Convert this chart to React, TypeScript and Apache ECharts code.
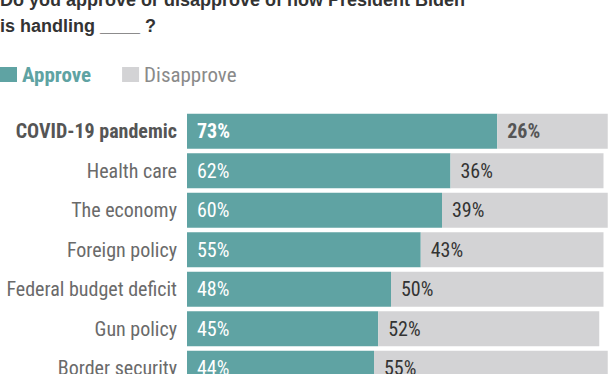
import React, { useEffect, useRef } from "react";
import * as echarts from "echarts";

const categories = [
  "COVID-19 pandemic",
  "Health care",
  "The economy",
  "Foreign policy",
  "Federal budget deficit",
  "Gun policy",
  "Border security",
];
const approve = [73, 62, 60, 55, 48, 45, 44];
const disapprove = [26, 36, 39, 43, 50, 52, 55];

const TEAL = "#5fa3a3";
const GRAY = "#d3d3d5";
const NARROW = "'Liberation Sans Narrow', 'Arial Narrow', 'Roboto Condensed', sans-serif";

export default function App() {
  const ref = useRef<HTMLDivElement>(null);
  useEffect(() => {
    if (!ref.current) return;
    const chart = echarts.init(ref.current, undefined, { renderer: "svg" });
    chart.setOption({
      animation: false,
      graphic: [
        {
          type: "text",
          left: 0,
          top: -13,
          style: {
            text: "Do you approve or disapprove of how President Biden\nis handling ____ ?",
            font: "bold 18px 'Liberation Sans', Arial, sans-serif",
            fill: "#333333",
            lineHeight: 26,
          },
        },
      ],
      legend: {
        left: 0,
        top: 64,
        padding: 0,
        icon: "rect",
        itemWidth: 17,
        itemHeight: 15,
        itemGap: 31,
        selectedMode: false,
        data: [
          {
            name: "Approve",
            textStyle: { color: TEAL, fontWeight: "bold", fontSize: 21, fontFamily: NARROW },
          },
          {
            name: "Disapprove",
            textStyle: { color: "#8a8a8a", fontSize: 21, fontFamily: NARROW },
          },
        ],
        itemStyle: { borderWidth: 0 },
      },
      grid: { left: 187, top: 111.5, width: 427, height: 276.5, containLabel: false },
      xAxis: {
        type: "value",
        min: 0,
        max: 100,
        show: false,
      },
      yAxis: {
        type: "category",
        data: categories,
        inverse: true,
        axisLine: { show: false },
        axisTick: { show: false },
        axisLabel: {
          margin: 10,
          fontSize: 20,
          fontFamily: NARROW,
          color: "#6a6a6a",
          formatter: (v: string, i: number) => (i === 0 ? `{b|${v}}` : v),
          rich: {
            b: { fontWeight: "bold", fontSize: 20, fontFamily: NARROW, color: "#555555" },
          },
        },
      },
      series: [
        {
          name: "Approve",
          type: "bar",
          stack: "t",
          barWidth: 35,
          itemStyle: { color: TEAL },
          data: approve.map((v, i) => ({
            value: v,
            label: i === 0 ? { fontWeight: "bold" } : undefined,
          })),
          label: {
            show: true,
            position: "insideLeft",
            distance: 10,
            formatter: "{c}%",
            color: "#ffffff",
            fontSize: 20,
            fontFamily: NARROW,
          },
        },
        {
          name: "Disapprove",
          type: "bar",
          stack: "t",
          barWidth: 35,
          itemStyle: { color: GRAY },
          data: disapprove.map((v, i) => ({
            value: v,
            label: i === 0 ? { fontWeight: "bold", color: "#555555" } : undefined,
          })),
          label: {
            show: true,
            position: "insideLeft",
            distance: 10,
            formatter: "{c}%",
            color: "#333333",
            fontSize: 20,
            fontFamily: NARROW,
          },
        },
      ],
    });
    return () => chart.dispose();
  }, []);
  return (
    <div
      ref={ref}
      style={{ position: "fixed", left: 0, top: 0, width: 612, height: 420, background: "#fff" }}
    />
  );
}
